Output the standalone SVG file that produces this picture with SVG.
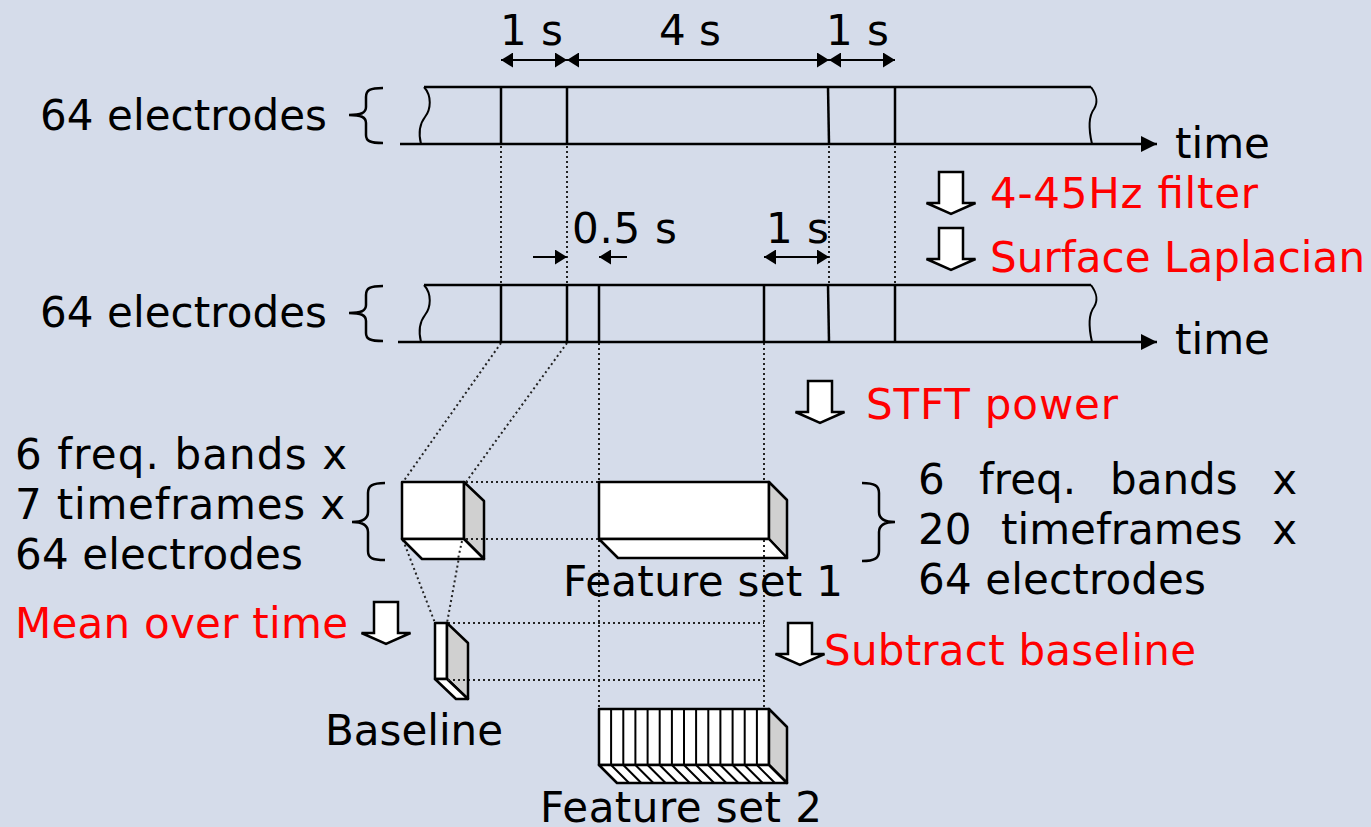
<svg xmlns="http://www.w3.org/2000/svg" width="1371" height="827" viewBox="0 0 1371 827">
<defs>
<style>
text{font-family:"DejaVu Sans","Verdana",sans-serif;font-size:42px;fill:#000}
.red{fill:#ff0000}
.ln{stroke:#000;stroke-width:2.5;fill:none}
.dim{stroke:#000;stroke-width:2;fill:none}
.dot{stroke:#222;stroke-width:2;stroke-dasharray:2 3;fill:none}
.face{fill:#fff;stroke:#000;stroke-width:2.5;stroke-linejoin:round}
.side{fill:#d0d0d0;stroke:#000;stroke-width:2.5;stroke-linejoin:round}
.brace{stroke:#000;stroke-width:2.5;fill:none}
.harrow{fill:#fff;stroke:#000;stroke-width:2.5;stroke-linejoin:miter}
</style>
<marker id="ah" markerUnits="userSpaceOnUse" markerWidth="12" markerHeight="15" viewBox="0 0 12 15" refX="12" refY="7.5" orient="auto-start-reverse">
<path d="M0,0 L12,7.5 L0,15 Z" fill="#000"/>
</marker>
<marker id="axh" markerUnits="userSpaceOnUse" markerWidth="16" markerHeight="16" viewBox="0 0 16 16" refX="16" refY="8" orient="auto">
<path d="M0,0 L16,8 L0,16 Z" fill="#000"/>
</marker>
<path id="hollow" d="M-12,0 H12 V31 H24.5 L0,42 L-24.5,31 H-12 Z"/>
</defs>
<rect width="1371" height="827" fill="#d5dcea"/>

<g id="connectors">
<line class="dot" x1="501" y1="146" x2="501" y2="285"/>
<line class="dot" x1="567" y1="146" x2="567" y2="285"/>
<line class="dot" x1="829" y1="146" x2="829" y2="285"/>
<line class="dot" x1="895" y1="146" x2="895" y2="285"/>
<line class="dot" x1="501" y1="343" x2="403" y2="482"/>
<line class="dot" x1="567" y1="343" x2="466" y2="482"/>
<line class="dot" x1="599" y1="343" x2="599" y2="482"/>
<line class="dot" x1="764" y1="343" x2="764" y2="482"/>
<line class="dot" x1="599" y1="540" x2="599" y2="709"/>
<line class="dot" x1="764" y1="540" x2="764" y2="709"/>
<line class="dot" x1="466" y1="482" x2="599" y2="482"/>
<line class="dot" x1="466" y1="539" x2="599" y2="539"/>
<line class="dot" x1="403" y1="540" x2="435" y2="623"/>
<line class="dot" x1="462" y1="541" x2="447" y2="623"/>
<line class="dot" x1="448" y1="623" x2="764" y2="623"/>
<line class="dot" x1="448" y1="680" x2="764" y2="680"/>
<line class="dim" x1="501" y1="60" x2="567" y2="60" marker-start="url(#ah)" marker-end="url(#ah)"/>
<line class="dim" x1="567" y1="60" x2="829" y2="60" marker-start="url(#ah)" marker-end="url(#ah)"/>
<line class="dim" x1="829" y1="60" x2="895" y2="60" marker-start="url(#ah)" marker-end="url(#ah)"/>
<line class="dim" x1="533" y1="257" x2="567" y2="257" marker-end="url(#ah)"/>
<line class="dim" x1="627" y1="257" x2="599" y2="257" marker-end="url(#ah)"/>
<line class="dim" x1="764" y1="257" x2="829" y2="257" marker-start="url(#ah)" marker-end="url(#ah)"/>
<use href="#hollow" class="harrow" transform="translate(951,172)"/>
<use href="#hollow" class="harrow" transform="translate(951,228)"/>
<use href="#hollow" class="harrow" transform="translate(820,381)"/>
<use href="#hollow" class="harrow" transform="translate(386,602)"/>
<use href="#hollow" class="harrow" transform="translate(800,623)"/>
</g>

<g id="timeline1">
<line class="ln" x1="400" y1="144" x2="1157" y2="144" marker-end="url(#axh)"/>
<line class="ln" x1="424" y1="87" x2="1091" y2="87"/>
<path class="dim" d="M424,87 C432,96 431,109 425,117 C418,126 419,136 421,144"/>
<path class="dim" d="M1091,87 C1096,94 1099,101 1094,109 C1088,117 1089,131 1092,144"/>
<line class="ln" x1="501" y1="87" x2="501" y2="144"/>
<line class="ln" x1="567" y1="87" x2="567" y2="144"/>
<line class="ln" x1="828" y1="87" x2="829" y2="144"/>
<line class="ln" x1="895" y1="87" x2="895" y2="144"/>
<path class="brace" d="M383,88 C370,88 366,90 366,97 L366,107 C366,113 361,115 349,115 C361,115 366,117 366,123 L366,135 C366,141 370,143 383,143"/>
<text x="40" y="130" textLength="287" lengthAdjust="spacing">64 electrodes</text>
<text x="1175" y="158">time</text>
<text x="500" y="45" textLength="63" lengthAdjust="spacing">1 s</text>
<text x="659" y="45">4 s</text>
<text x="826" y="45" textLength="63" lengthAdjust="spacing">1 s</text>
</g>

<g id="timeline2">
<line class="ln" x1="398" y1="342" x2="1157" y2="342" marker-end="url(#axh)"/>
<line class="ln" x1="424" y1="285" x2="1091" y2="285"/>
<path class="dim" d="M424,285 C432,294 431,307 425,315 C418,324 419,334 421,342"/>
<path class="dim" d="M1091,285 C1096,292 1099,299 1094,307 C1088,315 1089,329 1092,342"/>
<line class="ln" x1="501" y1="285" x2="501" y2="342"/>
<line class="ln" x1="567" y1="285" x2="567" y2="342"/>
<line class="ln" x1="599" y1="285" x2="599" y2="342"/>
<line class="ln" x1="764" y1="285" x2="764" y2="342"/>
<line class="ln" x1="828" y1="285" x2="829" y2="342"/>
<line class="ln" x1="895" y1="285" x2="895" y2="342"/>
<path class="brace" d="M383,286 C370,286 366,288 366,295 L366,305 C366,311 361,313 349,313 C361,313 366,315 366,321 L366,333 C366,339 370,341 383,341"/>
<text x="40" y="327" textLength="287" lengthAdjust="spacing">64 electrodes</text>
<text x="1175" y="354">time</text>
<text x="572" y="243" textLength="105" lengthAdjust="spacing">0.5 s</text>
<text x="766" y="243" textLength="63" lengthAdjust="spacing">1 s</text>
</g>

<g id="steps">
<text class="red" x="990" y="208" textLength="268" lengthAdjust="spacing">4-45Hz filter</text>
<text class="red" x="990" y="272" textLength="375" lengthAdjust="spacing">Surface Laplacian</text>
<text class="red" x="866" y="419" textLength="252" lengthAdjust="spacing">STFT power</text>
<text class="red" x="15" y="638" textLength="333" lengthAdjust="spacing">Mean over time</text>
<text class="red" x="824" y="665" textLength="372" lengthAdjust="spacing">Subtract baseline</text>
</g>

<g id="cube">
<rect class="face" x="402" y="482" width="62" height="57"/>
<polygon class="side" points="464,482 484,501 484,559 464,539"/>
<polygon class="face" points="402,539 464,539 484,559 422,559"/>
<line class="dot" x1="466" y1="539" x2="484" y2="539"/>
<line class="dot" x1="462" y1="541" x2="458" y2="559"/>
<path class="brace" d="M385,483 C372,483 368,486 368,493 L368,512 C368,518 363,522 352,522 C363,522 368,526 368,532 L368,551 C368,558 372,560 385,560"/>
<text x="15" y="469" textLength="332" lengthAdjust="spacing">6 freq. bands x</text>
<text x="15" y="519" textLength="330" lengthAdjust="spacing">7 timeframes x</text>
<text x="15" y="569" textLength="288" lengthAdjust="spacing">64 electrodes</text>
</g>

<g id="baseline">
<rect class="face" x="435" y="623" width="12" height="56"/>
<polygon class="side" points="447,623 468,643 468,699 447,679"/>
<polygon class="face" points="435,679 447,679 468,699 456,699"/>
<line class="dot" x1="448" y1="680" x2="468" y2="680"/>
<text x="325" y="745">Baseline</text>
</g>

<g id="featureset1">
<rect class="face" x="599" y="482" width="170" height="57"/>
<polygon class="side" points="769,482 787,500 787,558 769,539"/>
<polygon class="face" points="599,539 769,539 787,558 618,558"/>
<line class="dot" x1="764" y1="540" x2="764" y2="558"/>
<path class="brace" d="M862,483 C875,483 879,486 879,493 L879,512 C879,518 884,522 895,522 C884,522 879,526 879,532 L879,551 C879,558 875,561 862,561"/>
<text x="563" y="596" textLength="280" lengthAdjust="spacing">Feature set 1</text>
<text x="918" y="494">6</text>
<text x="979" y="494">freq.</text>
<text x="1110" y="494">bands</text>
<text x="1297" y="494" text-anchor="end">x</text>
<text x="918" y="544">20</text>
<text x="1001" y="544">timeframes</text>
<text x="1297" y="544" text-anchor="end">x</text>
<text x="918" y="594" textLength="288" lengthAdjust="spacing">64 electrodes</text>
</g>

<g id="featureset2">
<rect class="face" x="599" y="709" width="170" height="56"/>
<polygon class="side" points="769,709 787,727 787,783 769,765"/>
<polygon class="face" points="599,765 769,765 787,783 617,783"/>
<path class="dim" d="M611.1,709V765M623.3,709V765M635.4,709V765M647.6,709V765M659.7,709V765M671.9,709V765M684,709V765M696.1,709V765M708.3,709V765M720.4,709V765M732.6,709V765M744.7,709V765M756.9,709V765"/>
<path class="dim" d="M611.1,765l18,18M623.3,765l18,18M635.4,765l18,18M647.6,765l18,18M659.7,765l18,18M671.9,765l18,18M684,765l18,18M696.1,765l18,18M708.3,765l18,18M720.4,765l18,18M732.6,765l18,18M744.7,765l18,18M756.9,765l18,18"/>
<text x="540" y="822" textLength="282" lengthAdjust="spacing">Feature set 2</text>
</g>
</svg>
